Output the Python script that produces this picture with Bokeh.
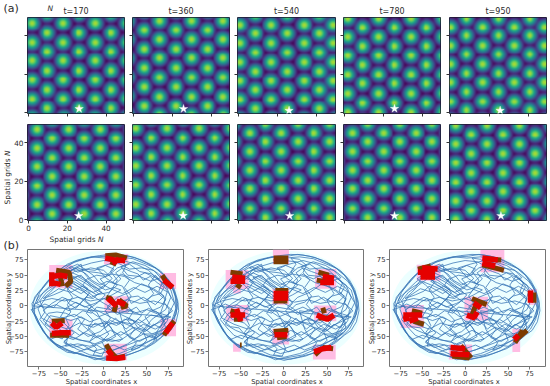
from bokeh.plotting import figure
from bokeh.layouts import column, row
from bokeh.models import LinearColorMapper
from bokeh.core.properties import value
from bokeh.palettes import Viridis256
from bokeh.embed import file_html
from bokeh.resources import INLINE
import numpy as np

TITLES = ["t=170", "t=360", "t=540", "t=780", "t=950"]
TICKS_A = [0, 20, 40]
TICKS_B = [-75, -50, -25, 0, 25, 50, 75]

# firing-field centres: two interleaved sets of rows
PANELS = [
 dict(xa=[1.6,17.7,34.5], ya=[46.8,36.6,27,16.9,6.9], xb=[9.6,26.1,42.8], yb=[41.6,31.8,21.8,11.7,1.9]),
 dict(xa=[13.4,30.1,46.4], ya=[48,38.2,28.4,18.2,8.1], xb=[5.2,21.8,38.2], yb=[43.1,33.2,23.2,13.2,3]),
 dict(xa=[0.5,16.7,33.5,48.6], ya=[45.9,36.3,26.2,16.3,6.6], xb=[8.3,24.9,41.6], yb=[41.3,31.3,21.4,11.7,1.7]),
 dict(xa=[9.3,25.8,42.5], ya=[44.5,34.7,24.8,15,4.7], xb=[1.4,17.5,34.4], yb=[49.3,39.5,29.7,19.8,9.8,-0.2]),
 dict(xa=[-0.2,16.5,33,48.8], ya=[44.7,35,25.2,15.5,5.5], xb=[8.1,24.8,41.1], yb=[49.3,40.2,30.4,20.5,10.7,0.9]),
 dict(xa=[4.1,20.6,37], ya=[47.3,37.3,27.5,17.4,7.7], xb=[12.2,28.9,45.4], yb=[42.3,32.3,22.5,12.6,2.6]),
 dict(xa=[0.9,17.2,33.9], ya=[47.8,37.5,27.9,18,7.9], xb=[9.1,25.4,42.1], yb=[42.6,32.8,22.9,12.9,2.8]),
 dict(xa=[5.5,21.8,38.7], ya=[45.4,35.6,25.6,15.8,5.5], xb=[13.8,30.4,46.8], yb=[50.2,40.6,30.4,20.5,10.7,0.7]),
 dict(xa=[3.8,20.1,37], ya=[45.4,35.6,25.6,15.8,5.5], xb=[12,28.7,45.4], yb=[50.2,40.6,30.4,20.5,10.7,0.7]),
 dict(xa=[2.4,18.7,35.6], ya=[49.3,39.4,29.5,19.5,9.6,-0.2], xb=[10.7,27.3,44], yb=[44.5,34.5,24.3,14.4,4.4]),
]
STAR_X = [26.1,25.8,25.8,25.8,25.6,25.9,25.6,26.1,25.8,26.0]
STAR_Y = [1.9,1.9,1.0,2.0,1.0,1.9,2.0,1.9,1.9,1.9]

TRAJ = [
(-78,8),(-74,22),(-68,34),(-60,48),(-52,58),(-42,68),(-30,75),(-18,79),(-5,82),(8,84),(22,83),(36,79),(50,70),(62,60),(72,48),(80,30),(84,12),(85,-5),(82,-22),(76,-38),(66,-52),(54,-64),(40,-74),(25,-82),(8,-87),(-8,-86),(-24,-81),(-40,-73),(-55,-62),(-66,-48),(-74,-30),(-80,-12),(-80,3),
(-72,8),(-60,12),(-45,8),(-30,14),(-15,8),(0,12),(12,6),(28,10),(42,4),(58,8),(72,2),(80,-8),(70,-20),(55,-15),(42,-28),(28,-20),(15,-32),(2,-25),(-12,-35),(-28,-28),(-42,-38),(-58,-30),(-72,-20),(-76,-5),(-66,15),(-52,28),(-38,22),(-25,32),(-12,22),(0,30),(10,45),(0,58),(-15,62),(-30,55),(-40,62),(-30,68),(-12,50),(-5,38),(8,28),(22,20),(35,30),(48,22),(62,32),(75,22),(82,5),
(76,-12),(62,-28),(48,-42),(35,-35),(20,-48),(8,-40),(-8,-52),(-22,-44),(-35,-55),(-50,-48),(-62,-55),(-52,-68),(-38,-62),(-22,-72),(-8,-64),(5,-75),(20,-68),(35,-60),(50,-52),(65,-44),(76,-30),(84,-14),(86,4),(82,24),(74,40),(62,54),(48,66),(34,72),(20,64),(28,50),(42,48),(55,40),(66,46),(58,58),(44,62),(30,60),(14,72),(0,74),(-14,70),(-28,64),(-44,54),(-58,38),(-70,22),(-78,4),
(-68,-4),(-55,2),(-40,-8),(-28,2),(-18,18),(-28,30),(-40,40),(-30,48),(-18,38),(-8,26),(2,18),(-6,6),(-18,-6),(-6,-18),(8,-10),(22,-2),(36,-12),(50,-6),(64,-14),(72,-28),(60,-38),(46,-30),(32,-44),(18,-58),(4,-54),(-10,-62),(-26,-56),(-42,-48),(-56,-40),(-68,-30),(-62,-16),(-48,-20),(-34,-14),(-22,-22),(-30,-38),(-18,-50),(-4,-42),(6,-30),(20,-26),(34,-30),(44,-16),(30,-6),(16,-14),(4,-2),(16,14),(30,22),(44,36),(58,28),(70,16),(60,2),(46,14),(32,4),
(22,32),(10,38),(20,52),(34,44),(48,54),(60,46),(72,34),(78,14),(72,-6),(56,-22),(40,-50),(28,-62),(12,-72),(-4,-78),(-20,-70),(-34,-78),(-48,-70),(-60,-58),(-70,-42),(-78,-22),(-82,-4),(-76,14),(-64,28),(-50,40),(-36,32),(-24,24),(-14,14),(-2,22),(-12,34),(-24,46),(-36,54),(-46,46),(-32,38),(-20,28),(-8,18),(6,22),(16,34),(4,44),(-8,62),(6,68),(22,74),(38,68),(52,58),(64,42),(78,26),(84,-4),(78,-28),(68,-46),(52,-58),(36,-68),(18,-78),(0,-84),(-16,-80),(-32,-70),(-46,-58),(-34,-44),(-46,-28),(-60,-22),(-70,-8),(-60,4),(-48,14),(-34,6),(-20,-2),(-8,-10),(2,-36),(14,-20),(26,-38),(40,-22),(54,-34),(66,-26),(78,-18),
(-82,0),(-80,14),(-72,28),(-64,42),(-54,54),(-44,62),(-34,72),(-22,77),(-10,80),(4,81),(16,84),(30,81),(44,75),(54,68),(66,57),(76,42),(82,27),(86,8),(87,-8),(84,-26),(78,-40),(70,-48),(60,-60),(48,-70),(32,-78),(16,-84),(0,-89),(-12,-84),(-28,-79),(-44,-71),(-58,-60),(-68,-45),(-76,-28),(-82,-10),(-83,4),(-76,20),(-66,36),(-56,52),(-46,64),(-32,72),(-14,80),(2,78),(18,80),(34,77),(46,70),(60,62),(70,50),(78,34),(83,16),(84,-2),(82,-18),(74,-36),(64,-50),(50,-60),(38,-70),(22,-80),(6,-84),(-10,-88),(-26,-78),(-42,-76),(-54,-66),(-64,-54),(-72,-36),(-78,-18),(-84,-6),
(-75,-2),(-68,3),(-58,-3),(-52,6),(-44,12),(-40,3),(-32,-4),(-26,6),(-20,14),(-12,12),(-6,20),(-14,30),(-22,38),(-30,44),(-38,50),(-46,58),(-38,64),(-28,58),(-20,52),(-14,42),(-4,34),(4,40),(14,36),(20,44),(14,54),(22,62),(32,56),(40,52),(46,42),(54,48),(62,38),(70,30),(66,20),(56,16),(48,8),(40,16),(30,14),(24,6),(14,2),(8,-6),(0,-4),(-8,-2),(-14,-12),(-24,-8),(-34,-18),(-44,-12),(-54,-10),(-64,-12),(-70,-24),(-62,-34),(-52,-36),(-46,-46),(-36,-40),(-28,-48),(-18,-40),(-10,-28),(-2,-34),(8,-24),(18,-30),(24,-22),(34,-24),(40,-36),(50,-40),(58,-30),(66,-36),(70,-22),(62,-10),(52,-4),(44,-12),(38,-2),(28,-10),(18,-8),(24,-38),(30,-52),(42,-58),(54,-48),(62,-54),(50,-66),(38,-64),(24,-72),(12,-64),(0,-70),(-12,-74),(-24,-64),(-36,-68),(-46,-60),(-40,-50),(-28,-56),(-16,-58),(-6,-48),(4,-58),(14,-50),(8,-34),(-4,-20),(-16,-26),(-26,-18),(-38,-24),(-50,-18),(-44,-4),(-32,6),(-22,-2),(-10,4),(-2,10),(10,18),(20,26),(12,30),(2,26),(-10,36),(-18,44),(-8,50),(2,48),(12,60),(2,66),(-10,58),(-22,60),(-34,56),(-44,44),(-54,34),(-62,22),(-70,12),(-58,18),(-48,24),(-42,32),(-34,26),(-26,20),(-18,28),(-28,38),(-36,46),(-26,50),(-16,34),(-6,28),(2,34),(-4,44),(10,52),(24,48),(36,38),(50,32),(60,24),(72,10),(66,-2),(56,-8),(74,-16),(60,-46),(46,-46),(36,-54),(20,-42),(10,-50),(-2,-60),(-16,-66),(-30,-62),(-44,-66),
(-42,-54),(-46,-44),(-40,-32),(-44,-20),(-38,-10),(-42,2),(-36,14),(-42,26),(-36,38),(-42,48),(-36,60),(-26,68),(-24,56),(-18,46),(-24,34),(-16,22),(-22,10),(-14,0),(-20,-12),(-12,-24),(-18,-36),(-10,-46),(-16,-58),(-8,-70),(-12,-80),(-2,-82),(2,-70),(-2,-58),(6,-46),(0,-34),(8,-20),(2,-8),(10,4),(4,16),(10,28),(16,42),(8,56),(14,68),(8,78),(18,76),(26,66),(22,54),(30,42),(24,30),(32,16),(26,2),(34,-10),(28,-24),(36,-38),(30,-50),(38,-60),(32,-72),(42,-68),(50,-56),(46,-42),(54,-30),(48,-18),(56,-6),(50,8),(58,20),(52,34),(60,50),(68,38),(64,24),(72,12),(66,-12),(72,-36),(62,-44),(58,-56),(68,-44),(56,-52),(44,-44),(30,-32),(16,-24),(2,-14),(-10,-6),(-24,10),(-36,20),(-46,34),(-56,44),(-48,52),(-40,44),(-32,34),(-22,26),(-12,16),(-2,6),(8,-2),(20,-14),(32,-22),(44,-34),(56,-46),(66,-40),(74,-24),(76,-6),(70,6),(74,24),(66,40),(56,52),(42,56),(30,68),(16,62),(6,50),(-6,54),(-18,56),(-30,62),(-40,56),(-50,46),(-58,30),(-66,22),(-74,8),(-68,-10),(-74,-22),(-66,-36),(-58,-48),(-48,-54),(-38,-36),(-30,-20),(-24,-32),(-14,-44),(-4,-54),(10,-58),(22,-54),(12,-42),(4,-28),(-8,-30),(-20,-32),
]

PINK = [
 [(0.4,28.6,84.8,67.4),(-63,-36,66.8,28.8),(65,84,53.8,27.7),(1,29,15.8,-11.4),(-63,-36,-22,-50),(66,84,-21,-49.5),(1,27,-62,-89)],
 [(-12.8,5.8,91.8,68.5),(-67.6,-41,58.7,27.7),(-59,-50,35,20),(36,60.7,60,28),(-13.5,6,28,2),(-67,-41,1.6,-25),(35,60.7,0.5,-25),(-13.5,6,-37.5,-63),(33.6,60,-63.6,-87.5),(-59,-50,-62,-75)],
 [(17.8,45.6,91,55),(-56.4,-28.6,67,41),(73.8,83.5,27.7,2),(-0.8,26.7,15,-24),(-75,-48,1.6,-36),(55,64,-37.5,-75.5),(-19,8,-63,-87.5)],
]
BROWN = [
 [[(2,82),(14,83),(27,78)],[(8,72),(15,68)],[(-55,58),(-40,55),(-38,40),(-44,32)],[(-50,48),(-48,32)],[(68,50),(72,40),(80,30)],[(12,-10),(14,0),(8,12),(3,14)],[(18,10),(27,0),(20,-3)],[(-62,-48),(-40,-48)],[(-60,-25),(-45,-24)],[(70,-48),(76,-35),(82,-25)],[(3,-63),(8,-75),(15,-85),(25,-82)]],
 [[(-12,78),(5,78)],[(-12,72),(5,72)],[(-62,55),(-48,52)],[(-55,35),(-50,30)],[(40,55),(52,50)],[(38,42),(55,38)],[(-10,25),(5,25)],[(-12,8),(4,8)],[(-62,-8),(-52,-12)],[(-58,-22),(-48,-22)],[(40,-20),(55,-20)],[(45,-3),(47,-12)],[(-12,-42),(5,-40)],[(-8,-52),(3,-50)],[(36,-80),(42,-72)],[(45,-68),(57,-70)],[(-51,-64),(-49,-64)]],
 [[(20,67),(40,60),(45,58)],[(22,77),(42,75)],[(-55,60),(-40,65)],[(80,22),(80,5)],[(8,12),(25,2)],[(12,0),(8,-15)],[(-62,-8),(-50,-12)],[(-60,-25),(-48,-30)],[(58,-60),(67,-40)],[(62,-52),(72,-40)],[(-5,-65),(7,-85)],[(-15,-82),(5,-85)]],
]
RED = [
 [[(2,78),(12,75),(25,74)],[(10,70),(18,76)],[(-60,48),(-50,50),(-42,48)],[(-60,38),(-50,35)],[(-60,55),(-60,32)],[(70,42),(80,30)],[(5,12),(15,0)],[(15,8),(25,2)],[(-60,-45),(-50,-44),(-38,-44)],[(-60,-28),(-55,-35),(-48,-28)],[(72,-44),(80,-28)],[(3,-85),(15,-86),(25,-84)],[(5,-72),(10,-82)]],
 [[(-60,47),(-45,45)],[(-62,40),(-45,40)],[(45,48),(58,45)],[(42,38),(58,38)],[(-12,20),(5,20)],[(-12,13),(5,13)],[(-55,-5),(-50,-25)],[(-62,-15),(-45,-15)],[(38,-15),(50,-22),(58,-15)],[(-11,-47),(4,-47)],[(35,-75),(45,-70),(55,-68)]],
 [[(20,78),(38,75)],[(20,70),(35,65)],[(-55,55),(-35,55)],[(-50,62),(-32,60)],[(-52,47),(-35,47)],[(76,25),(76,5)],[(10,5),(18,-3)],[(2,-15),(12,-20)],[(14,-10),(10,-20)],[(-72,-15),(-50,-15)],[(-65,-25),(-55,-20)],[(-72,-22),(-65,-20)],[(57,-55),(62,-48)],[(-17,-68),(0,-70)],[(-17,-78),(5,-80)]],
]

TXT = "#2b2b2b"
GREY = "#757575"
FS = "7.3px"
FONT = "DejaVu Sans"

def field(d):
    pts = []
    for ys, xs in ((d["ya"], d["xa"]), (d["yb"], d["xb"])):
        for y in ys:
            for x in xs:
                pts.append((x, y))
    # the pattern continues past the frame's edge
    for x, y in list(pts):
        for dx in (-16.6, 0, 16.6):
            for dy in (-19.8, 0, 19.8):
                a, b = x + dx, y + dy
                if all((a-u)**2 + (b-v)**2 > 16 for u, v in pts):
                    pts.append((a, b))
    g = np.linspace(-0.5, 49.5, 100)
    X, Y = np.meshgrid(g, g)
    Z = np.zeros_like(X)
    for x, y in pts:
        Z += np.exp(-4 * ((X-x)**2 + (Y-y)**2) / (2*3.0**2))
    return Z ** 0.25

mapper = LinearColorMapper(palette=Viridis256, low=0.19, high=1.12)

def heat(i, w, l, r, h, t, b, xlab=False, ylab=False, title=None):
    p = figure(width=w, height=h, min_border_left=l, min_border_right=r, min_border_top=t, min_border_bottom=b,
               x_range=(-0.5, 49.5), y_range=(-0.5, 49.5), output_backend="svg", toolbar_location=None, title=title)
    p.image(image=[field(PANELS[i])], x=-0.5, y=-0.5, dw=50, dh=50, color_mapper=mapper)
    p.scatter([STAR_X[i]], [STAR_Y[i]], marker="star", size=9, fill_color="white", line_color="white", line_width=0.3)
    p.grid.visible = False
    p.outline_line_color = "#1a1a2e"
    p.outline_line_width = 1
    for ax in (p.xaxis[0], p.yaxis[0]):
        ax.ticker = TICKS_A
        ax.major_tick_out = 3; ax.major_tick_in = 0; ax.minor_tick_line_color = None
        ax.axis_line_color = None; ax.major_tick_line_color = "#333333"
        ax.major_label_text_font_size = FS; ax.major_label_text_color = TXT
        ax.major_label_standoff = 1; ax.major_label_text_font = FONT
    if not xlab: p.xaxis[0].major_label_overrides = {v: "" for v in TICKS_A}
    if not ylab: p.yaxis[0].major_label_overrides = {v: "" for v in TICKS_A}
    if title:
        p.title.align = "center"; p.title.text_font_size = "8px"; p.title.text_font_style = "normal"
        p.title.text_color = TXT; p.title.text_font = FONT; p.title.standoff = 3
    p.border_fill_color = None; p.background_fill_color = None
    return p

def traj(i, w, l, r, x_range):
    p = figure(width=w, height=149, min_border_left=l, min_border_right=r, min_border_top=12, min_border_bottom=20,
               x_range=x_range, y_range=(-99, 92), output_backend="svg", toolbar_location=None)
    p.ellipse([2], [-3], width=176, height=186, fill_color="#ecffff", line_color=None)
    for x0, x1, y1, y0 in PINK[i]:
        p.quad(left=[x0], right=[x1], top=[y1], bottom=[y0], fill_color="#ffbce3", line_color=None)
    p.line([a for a, _ in TRAJ], [b for _, b in TRAJ], line_color="#3472b4", line_width=0.8, line_alpha=0.95)
    p.multi_line([[a for a, _ in s] for s in BROWN[i]], [[b for _, b in s] for s in BROWN[i]], line_color="#7d3c00", line_width=5)
    p.multi_line([[a for a, _ in s] for s in RED[i]], [[b for _, b in s] for s in RED[i]], line_color="#e50000", line_width=5.5)
    p.grid.visible = False
    p.outline_line_color = GREY; p.outline_line_width = 1
    for ax in (p.xaxis[0], p.yaxis[0]):
        ax.ticker = TICKS_B
        ax.major_tick_out = 3; ax.major_tick_in = 0; ax.minor_tick_line_color = None
        ax.axis_line_color = None; ax.major_tick_line_color = GREY
        ax.major_label_text_font_size = "6.8px"; ax.major_label_text_color = TXT
        ax.major_label_standoff = 1; ax.major_label_text_font = FONT
    p.yaxis[0].major_label_orientation = "horizontal"
    p.border_fill_color = None; p.background_fill_color = None
    return p

geom = [(128, 27, 4), (105, 4, 4), (106, 4, 4), (106, 4, 5), (105, 4, 4)]
top = [heat(i, *geom[i], 118, 17, 5, title=TITLES[i]) for i in range(5)]
bot = [heat(i+5, *geom[i], 125, 6, 23, xlab=(i == 0), ylab=(i == 0)) for i in range(5)]
low = [traj(0, 184, 27, 0, (-88.2, 93.8)),
       traj(1, 180, 24, 0, (-87.5, 93.4)),
       traj(2, 186, 25, 5, (-88, 93.5))]

# a transparent sheet over the whole page carries the loose texts, placed by page pixel
sheet = figure(width=550, height=386, x_range=(0, 550), y_range=(386, 0), min_border=0, output_backend="svg",
               toolbar_location=None, margin=(-386, 0, 0, 0))
sheet.axis.visible = False
sheet.grid.visible = False
sheet.outline_line_color = None
sheet.border_fill_color = None
sheet.background_fill_color = None

def put(x, y, text, size=FS, style="normal", align="left", angle=0.0):
    sheet.text([x], [y], text=[text], text_font=value(FONT), text_font_size=size, text_font_style=style,
               text_color=TXT, text_align=align, text_baseline="middle", angle=angle)

put(3, 8, "(a)", "11px")
put(47, 8, "N", "7.5px", "italic")
put(3, 245, "(b)", "11px")
put(49, 239, "Spatial grids", "7.4px")
put(97.5, 239, "N", "7.4px", "italic")
put(7, 204, "Spatial grids", "7.4px", angle=np.pi/2)
put(7, 155.5, "N", "7.4px", "italic", angle=np.pi/2)
for xl, yl in ((102, 8), (287.5, 189), (464.5, 371)):
    put(xl, 381, "Spatial  coordinates x", "6.8px", align="center")
    put(yl, 307, "Spatial  coordinates y", "6.8px", align="center", angle=np.pi/2)

r1 = row(*top, spacing=0)
r2 = row(*bot, spacing=0)
r3 = row(*low, spacing=0, margin=(-6, 0, 0, 0))
page = column(r1, r2, r3, sheet, spacing=0)
open("out.html", "w").write(file_html(page, INLINE))
